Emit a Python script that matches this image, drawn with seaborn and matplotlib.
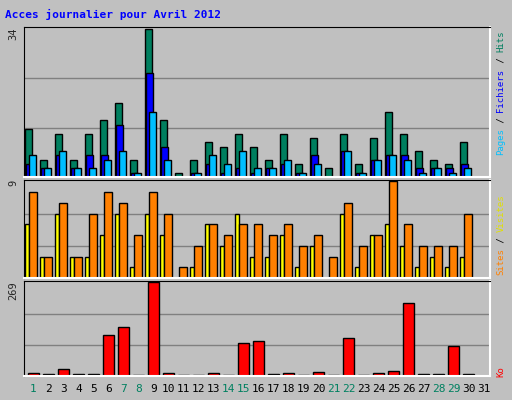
import numpy as np
import pandas as pd
import seaborn as sns
import matplotlib.pyplot as plt

days = [str(d) for d in range(1, 32)]
weekend = [1, 7, 8, 14, 15, 21, 22, 28, 29]

hits = [11, 4, 10, 4, 10, 13, 17, 4, 34, 13, 1, 4, 8, 7, 10, 7,
        4, 10, 3, 9, 2, 10, 3, 9, 15, 10, 6, 4, 3, 8, 0]
files = [3, 2, 5, 2, 5, 5, 12, 1, 24, 7, 0, 1, 3, 1, 2, 1,
         2, 3, 1, 5, 0, 6, 1, 4, 5, 5, 2, 2, 2, 3, 0]
pages = [5, 2, 6, 2, 2, 4, 6, 1, 15, 4, 0, 1, 5, 3, 6, 2,
         2, 4, 1, 3, 0, 6, 1, 4, 5, 4, 1, 2, 1, 2, 0]
visits = [8, 2, 7, 2, 6, 8, 7, 4, 8, 6, 1, 3, 5, 4, 5, 5,
          4, 5, 3, 4, 2, 7, 3, 4, 9, 5, 3, 3, 3, 6, 0]
sites = [5, 2, 6, 2, 2, 4, 6, 1, 6, 4, 0, 1, 5, 3, 6, 2,
         2, 4, 1, 3, 0, 6, 1, 4, 5, 3, 1, 2, 1, 2, 0]
ko = [10, 7, 21, 7, 7, 117, 142, 4, 269, 10, 4, 4, 10, 4, 96, 102,
      7, 10, 4, 12, 4, 108, 4, 10, 15, 210, 7, 7, 85, 7, 0]

df = pd.DataFrame({'day': days, 'hits': hits, 'files': files, 'pages': pages,
                   'visits': visits, 'sites': sites, 'ko': ko})
pos = np.arange(len(days))

sns.set_style('white')
plt.rcParams['font.family'] = ['DejaVu Sans Mono']
bg = '#c0c0c0'
fig = plt.figure(figsize=(5.12, 4.0), dpi=100, facecolor=bg)

ax1 = fig.add_axes([0.047, 0.5575, 0.91, 0.375])
ax2 = fig.add_axes([0.047, 0.305, 0.91, 0.245])
ax3 = fig.add_axes([0.047, 0.06, 0.91, 0.2375])

kw = dict(align='edge', edgecolor='black', linewidth=1)
ax1.bar(pos - 0.57, df['hits'], width=0.48, color='#007f5f', **kw)
ax1.bar(pos - 0.47, df['files'], width=0.45, color='#0000ff', **kw)
ax1.bar(pos - 0.32, df['pages'], width=0.5, color='#00bfff', **kw)

ax2.bar(pos - 0.57, df['sites'], width=0.3, color='#ffff00', **kw)
ax2.bar(pos - 0.27, df['visits'], width=0.5, color='#ff8000', **kw)

sns.barplot(x=pos, y=df['ko'], ax=ax3, color='#ff0000', edgecolor='black',
            linewidth=1, width=0.7, saturation=1, native_scale=True)

for ax, mx, lab in [(ax1, 34, '34'), (ax2, 9, '9'), (ax3, 269, '269')]:
    ax.set_facecolor(bg)
    ax.set_xlim(-0.63, 30.43)
    ax.set_ylim(0, mx * 1.015)
    for g in (mx / 3, 2 * mx / 3):
        ax.axhline(g, color='#808080', lw=1, zorder=0)
    ax.set_xticks([])
    ax.set_yticks([])
    ax.set_xlabel('')
    ax.set_ylabel('')
    for s in ax.spines.values():
        s.set_color('black')
    ax.spines['right'].set_color('white')
    ax.spines['bottom'].set_color('white')
    ax.spines['right'].set_linewidth(1.5)
    ax.spines['bottom'].set_linewidth(1.5)
    ax.text(-0.012, 1.0, lab, transform=ax.transAxes, rotation=90,
            ha='right', va='top', fontsize=7.5)

for i, d in enumerate(days):
    c = '#008060' if (i + 1) in weekend else 'black'
    fig.text((24 + 9.5 + 15 * i) / 512, 1 - 389 / 400, d, ha='center',
             va='center', fontsize=8, color=c)

fig.text(5 / 512, 1 - 14 / 400, 'Acces journalier pour Avril 2012',
         color='#0000ff', fontsize=8, fontweight='bold', va='center')

fs = 6.5
step = fs * 100 / 72 * 0.602 / 400


def side_label(parts, y0, x=501 / 512):
    y = y0
    for txt, col in parts:
        fig.text(x, y, txt, rotation=90, color=col, fontsize=fs,
                 ha='center', va='bottom')
        y += len(txt) * step


side_label([('Pages', '#00bfff'), (' / ', 'black'), ('Fichiers', '#0000ff'),
            (' / ', 'black'), ('Hits', '#007f5f')], 1 - 155 / 400)
side_label([('Sites', '#ff8000'), (' / ', 'black'), ('Visites', '#e0e000')],
           1 - 275 / 400)
side_label([('Ko', '#ff0000')], 1 - 377 / 400)

fig.savefig('out.png', dpi=100, facecolor=bg)
